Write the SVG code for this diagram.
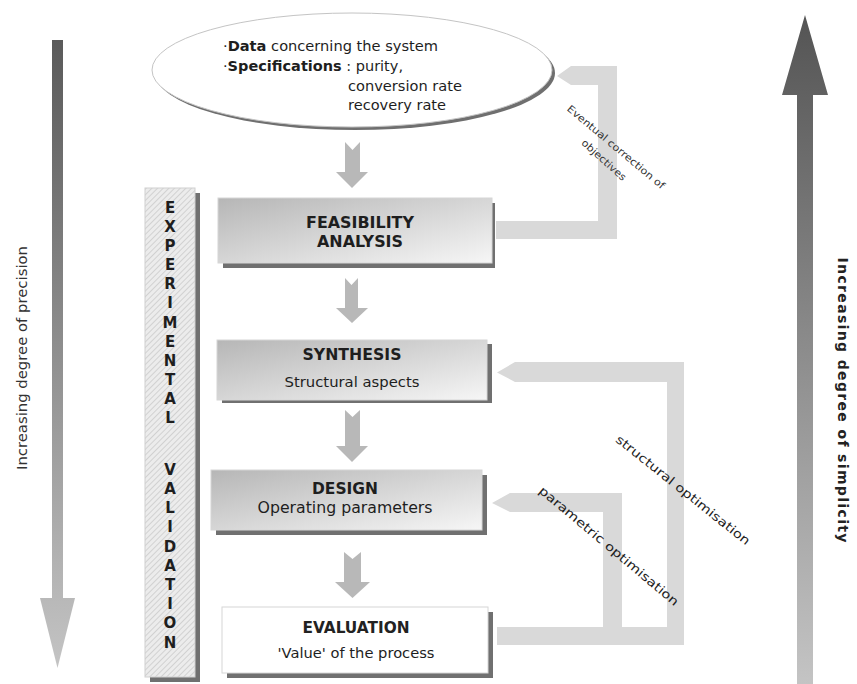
<svg xmlns="http://www.w3.org/2000/svg" width="857" height="684" viewBox="0 0 857 684">
<style>
  text { font-family: "DejaVu Sans", "Liberation Sans", sans-serif; fill: #1e1e1e; }
  .t { font-size: 14px; }
  .b { font-weight: bold; }
  .title { font-size: 15px; font-weight: bold; text-anchor: middle; }
  .sub { font-size: 14px; text-anchor: middle; }
  .lbl { font-size: 12px; text-anchor: middle; }
  .ev { font-size: 15px; font-weight: bold; text-anchor: middle; fill: #222; }
  .box { stroke: #d6d6d6; stroke-width: 1; }
  .shadow { fill: #707070; }
  .flow { fill: #b8b8b8; }
  .fb { fill: #d9d9d9; }
</style>
<defs>
  <linearGradient id="boxg" x1="0" y1="0" x2="1" y2="1">
    <stop offset="0" stop-color="#b6b6b6"/>
    <stop offset="1" stop-color="#f6f6f6"/>
  </linearGradient>
  <linearGradient id="downg" gradientUnits="userSpaceOnUse" x1="0" y1="40" x2="0" y2="668">
    <stop offset="0" stop-color="#5a5a5a"/>
    <stop offset="1" stop-color="#c4c4c4"/>
  </linearGradient>
  <linearGradient id="upg" gradientUnits="userSpaceOnUse" x1="0" y1="15" x2="0" y2="684">
    <stop offset="0" stop-color="#545454"/>
    <stop offset="1" stop-color="#c4c4c4"/>
  </linearGradient>
  <pattern id="hatch" width="4" height="4" patternUnits="userSpaceOnUse" patternTransform="rotate(45)">
    <rect width="4" height="4" fill="#ececec"/>
    <line x1="0" y1="0" x2="0" y2="4" stroke="#c8c8c8" stroke-width="1.5"/>
  </pattern>
</defs>

<!-- side arrows -->
<g id="precision-axis">
  <path d="M52,40 H63 V598 H75 L57.5,668 L40,598 H52 Z" fill="url(#downg)"/>
  <text transform="translate(22,358) rotate(-90)" dy="0.35em" style="font-size:14px;text-anchor:middle;fill:#333" textLength="224" lengthAdjust="spacingAndGlyphs">Increasing degree of precision</text>
</g>
<g id="simplicity-axis">
  <path d="M797,684 V95 H782 L805,15 L828,95 H813 V684 Z" fill="url(#upg)"/>
  <text transform="translate(843,400) rotate(90)" dy="0.35em" style="font-size:14px;font-weight:bold;text-anchor:middle;fill:#222" textLength="285">Increasing degree of simplicity</text>
</g>

<!-- connectors -->
<g id="connectors">
  <path class="flow" d="M345,142 L352.5,150 L360,142 V172 H368 L352,188 L336,172 H345 Z"/>
  <path class="flow" d="M345,278 L351.5,285 L358,278 V308 H368 L352,323 L336,308 H345 Z"/>
  <path class="flow" d="M345,410 L352.5,417 L360,410 V446 H368 L352,462 L336,446 H345 Z"/>
  <path class="flow" d="M344,552 L352.5,559 L361,552 V582 H370 L352.5,598 L335,582 H344 Z"/>
  <path class="fb" d="M496,221 H598 V85 H571 L557,76 L571,66 H617 V239 H496 Z"/>
  <path class="fb" d="M497,627 H667 V382 H515 L497,372.5 L515,362 H684 V645 H497 Z"/>
  <path class="fb" d="M603,627 V512 H510 L492,503 L510,493 H622 V627 Z"/>
  <text transform="translate(616,147) rotate(40)" dy="0.35em" style="font-size:10px;text-anchor:middle;fill:#333" textLength="124" lengthAdjust="spacingAndGlyphs">Eventual correction of</text>
  <text transform="translate(604,160) rotate(42)" dy="0.35em" style="font-size:10px;text-anchor:middle;fill:#333" textLength="56" lengthAdjust="spacingAndGlyphs">objectives</text>
  <text class="lbl" transform="translate(683,490) rotate(38.6)" dy="0.35em" textLength="168" lengthAdjust="spacingAndGlyphs">structural optimisation</text>
  <text class="lbl" transform="translate(609,546) rotate(40)" dy="0.35em" textLength="178" lengthAdjust="spacingAndGlyphs">parametric optimisation</text>
</g>

<!-- input ellipse -->
<g id="data-specs">
  <ellipse cx="355" cy="73" rx="200" ry="57" fill="#6f6f6f"/>
  <ellipse cx="352" cy="70" rx="200" ry="57" fill="#ffffff" stroke="#c4c4c4" stroke-width="1"/>
  <text class="t" x="223" y="51" textLength="215" lengthAdjust="spacingAndGlyphs">·<tspan class="b">Data</tspan>  concerning the system</text>
  <text class="t" x="223" y="71" textLength="180" lengthAdjust="spacingAndGlyphs">·<tspan class="b">Specifications</tspan> : purity,</text>
  <text class="t" x="348" y="91" textLength="114" lengthAdjust="spacingAndGlyphs">conversion rate</text>
  <text class="t" x="348" y="110" textLength="98" lengthAdjust="spacingAndGlyphs">recovery rate</text>
</g>

<!-- experimental validation bar -->
<g id="experimental-validation">
  <rect x="150" y="193" width="50" height="489" class="shadow"/>
  <rect x="145" y="188" width="50" height="489" fill="url(#hatch)" stroke="#d0d0d0" stroke-width="1"/>
  <g style="font-size:15px;font-weight:bold;text-anchor:middle" fill="#222">
    <text x="170" y="213">E</text>
    <text x="170" y="232">X</text>
    <text x="170" y="251">P</text>
    <text x="170" y="270">E</text>
    <text x="170" y="289">R</text>
    <text x="170" y="308">I</text>
    <text x="170" y="328">M</text>
    <text x="170" y="347">E</text>
    <text x="170" y="366">N</text>
    <text x="170" y="385">T</text>
    <text x="170" y="404">A</text>
    <text x="170" y="423">L</text>
    <text x="170" y="475">V</text>
    <text x="170" y="494">A</text>
    <text x="170" y="513">L</text>
    <text x="170" y="532">I</text>
    <text x="170" y="552">D</text>
    <text x="170" y="571">A</text>
    <text x="170" y="590">T</text>
    <text x="170" y="609">I</text>
    <text x="170" y="628">O</text>
    <text x="170" y="648">N</text>
  </g>
</g>

<g id="feasibility">
  <rect x="223" y="203" width="272" height="65" class="shadow"/>
  <rect x="218" y="198" width="274" height="65" fill="url(#boxg)" class="box"/>
  <text class="title" x="360" y="228" textLength="108" lengthAdjust="spacingAndGlyphs">FEASIBILITY</text>
  <text class="title" x="360" y="247" textLength="86" lengthAdjust="spacingAndGlyphs">ANALYSIS</text>
</g>

<g id="synthesis">
  <rect x="222" y="344" width="270" height="59" class="shadow"/>
  <rect x="217" y="340" width="270" height="60" fill="url(#boxg)" class="box"/>
  <text class="title" x="352" y="360" textLength="99" lengthAdjust="spacingAndGlyphs">SYNTHESIS</text>
  <text class="sub" x="352" y="387" textLength="135" lengthAdjust="spacingAndGlyphs">Structural aspects</text>
</g>

<g id="design">
  <rect x="216" y="475" width="271" height="60" class="shadow"/>
  <rect x="211" y="470" width="271" height="60" fill="url(#boxg)" class="box"/>
  <text class="title" x="345" y="494" textLength="66" lengthAdjust="spacingAndGlyphs">DESIGN</text>
  <text class="sub" x="345" y="513" style="font-size:15px" textLength="175" lengthAdjust="spacingAndGlyphs">Operating parameters</text>
</g>

<g id="evaluation">
  <rect x="227" y="612" width="266" height="66" class="shadow"/>
  <rect x="222" y="607" width="266" height="66" fill="#ffffff" class="box"/>
  <text class="ev" x="356" y="633" textLength="107" lengthAdjust="spacingAndGlyphs">EVALUATION</text>
  <text class="sub" x="356" y="658" textLength="157" lengthAdjust="spacingAndGlyphs">'Value' of the process</text>
</g>
</svg>
